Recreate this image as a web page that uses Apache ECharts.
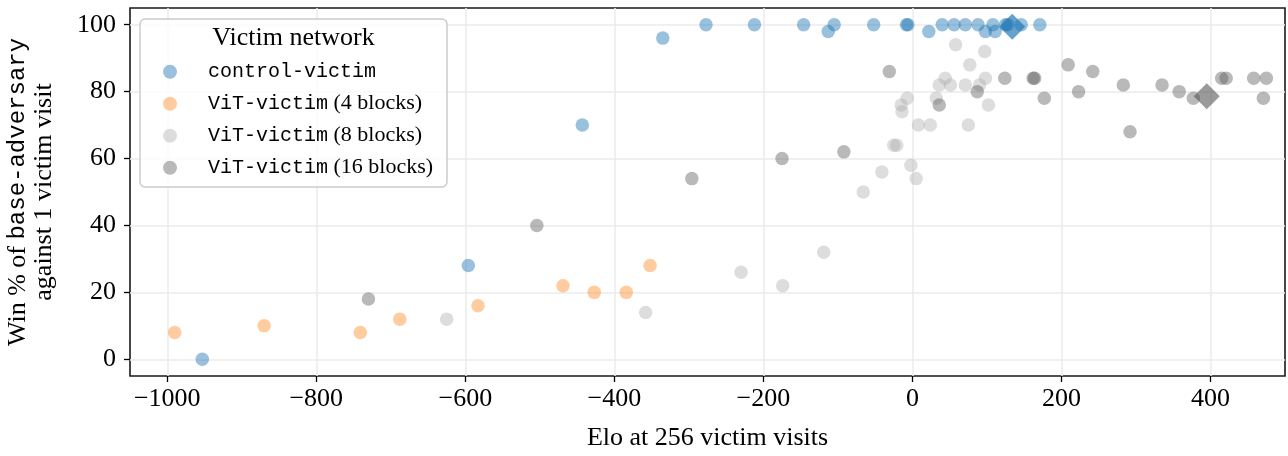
<!DOCTYPE html>
<html>
<head>
<meta charset="utf-8">
<script src="https://cdn.jsdelivr.net/npm/echarts@6/dist/echarts.min.js"></script>
<style>
  html, body { margin: 0; padding: 0; background: #fff; }
  #chart { width: 1288px; height: 456px; }
</style>
</head>
<body>
<div id="chart"></div>
<script>
// Victim network groups, in drawing order
const seriesNames = [
  'control-victim',
  'ViT-victim (4 blocks)',
  'ViT-victim (8 blocks)',
  'ViT-victim (16 blocks)'
];

// [Elo at 256 victim visits, win % against 1 victim visit]
const controlVictim = [
  [-953, 0], [-596, 28], [-443, 70], [-335, 96], [-277, 100], [-212, 100],
  [-146, 100], [-113, 98], [-105, 100], [-52, 100], [-8, 100], [-6, 100],
  [22, 98], [40, 100], [56, 100], [71, 100], [88, 100], [98, 98],
  [108, 100], [111, 98], [125, 100], [128, 100], [146, 100], [171, 100]
];
const vit4Blocks = [
  [-990, 8], [-870, 10], [-741, 8], [-688, 12], [-583, 16],
  [-469, 22], [-427, 20], [-384, 20], [-352, 28]
];
const vit8Blocks = [
  [-625, 12], [-358, 14], [-230, 26], [-174, 22], [-119, 32], [-66, 50],
  [-41, 56], [-2, 58], [5, 54], [-25, 64], [-21, 64], [-15, 76], [-14, 74],
  [-7, 78], [8, 70], [24, 70], [75, 70], [32, 78], [36, 82], [44, 84],
  [51, 82], [58, 94], [71, 82], [77, 88], [90, 82], [97, 92], [98, 84], [102, 76]
];
const vit16Blocks = [
  [-730, 18], [-504, 40], [-296, 54], [-175, 60], [-92, 62], [-31, 86],
  [36, 76], [87, 80], [124, 84], [162, 84], [164, 84], [177, 78], [209, 88],
  [223, 80], [242, 86], [283, 82], [292, 68], [335, 82], [358, 80], [377, 78],
  [415, 84], [421, 84], [458, 84], [475, 84], [471, 78]
];
// Highlighted (diamond) points
const controlHighlight = [[134, 99.4]];
const vit16Highlight = [[395, 78.6]];

// Axis ranges and tick values
const xRange = [-1050, 500];
const yRange = [-5, 105];
const xTicks = [-1000, -800, -600, -400, -200, 0, 200, 400];
const yTicks = [0, 20, 40, 60, 80, 100];

// Plot box in pixels
const box = { left: 130, top: 8, width: 1155, height: 368 };
const kx = box.width / (xRange[1] - xRange[0]);
const ky = box.height / (yRange[1] - yRange[0]);
const xStep = xTicks[1] - xTicks[0];
const yStep = yTicks[1] - yTicks[0];

const serif = 'Liberation Serif';
const mono = 'Liberation Mono';
const minus = v => String(v).replace('-', '\u2212');

const pointColors = [
  'rgba(31,119,180,0.57)',
  'rgba(255,127,14,0.5)',
  'rgba(169,169,169,0.5)',
  'rgba(80,80,80,0.5)'
];
const groups = [controlVictim, vit4Blocks, vit8Blocks, vit16Blocks];

const chart = echarts.init(document.getElementById('chart'), null, { renderer: 'canvas' });

const scatterSeries = groups.map((data, i) => ({
  name: seriesNames[i],
  type: 'scatter',
  xAxisIndex: 0,
  yAxisIndex: 0,
  data: data,
  symbol: 'circle',
  symbolSize: 13.5,
  itemStyle: { color: pointColors[i] },
  emphasis: { disabled: true },
  z: 2 + i * 0.01
}));

const highlightSeries = [
  { name: 'control-victim highlight', data: controlHighlight, color: 'rgba(31,119,180,0.85)' },
  { name: 'ViT-victim (16 blocks) highlight', data: vit16Highlight, color: 'rgba(80,80,80,0.72)' }
].map(h => ({
  name: h.name,
  type: 'scatter',
  xAxisIndex: 0,
  yAxisIndex: 0,
  data: h.data,
  symbol: 'diamond',
  symbolSize: 26,
  itemStyle: { color: h.color },
  emphasis: { disabled: true },
  z: 3
}));

const tickStyle = { show: true, inside: false, length: 6, lineStyle: { color: '#000', width: 1.3 } };
const gridLineStyle = { show: true, lineStyle: { color: '#ebebeb', width: 1.5 } };

const option = {
  animation: false,
  grid: [
    // data area with frame
    { left: box.left, top: box.top, width: box.width, height: box.height, outerBoundsMode: 'none',
      show: true, borderColor: '#1a1a1a', borderWidth: 1.6, backgroundColor: 'transparent' },
    // x ticks / gridlines
    { left: box.left + (xTicks[0] - xRange[0]) * kx, top: box.top, outerBoundsMode: 'none',
      width: (xTicks[xTicks.length - 1] - xTicks[0]) * kx, height: box.height },
    // y ticks / gridlines
    { left: box.left, top: box.top + (yRange[1] - yTicks[yTicks.length - 1]) * ky, outerBoundsMode: 'none',
      width: box.width, height: (yTicks[yTicks.length - 1] - yTicks[0]) * ky }
  ],
  xAxis: [
    { gridIndex: 0, type: 'value', min: xRange[0], max: xRange[1],
      axisLine: { show: false, onZero: false }, axisTick: { show: false }, axisLabel: { show: false },
      splitLine: { show: false },
      name: 'Elo at 256 victim visits', nameLocation: 'middle', nameGap: 49,
      nameTextStyle: { fontFamily: serif, fontSize: 26, color: '#000' } },
    { gridIndex: 1, type: 'value', min: xTicks[0], max: xTicks[xTicks.length - 1], interval: xStep,
      position: 'bottom',
      axisLine: { show: false, onZero: false },
      axisTick: tickStyle,
      axisLabel: { show: true, margin: 10, fontFamily: serif, fontSize: 26, color: '#000', formatter: minus },
      splitLine: gridLineStyle },
    { gridIndex: 2, type: 'value', min: xRange[0], max: xRange[1], show: false,
      axisLine: { onZero: false } }
  ],
  yAxis: [
    { gridIndex: 0, type: 'value', min: yRange[0], max: yRange[1],
      axisLine: { show: false, onZero: false }, axisTick: { show: false }, axisLabel: { show: false },
      splitLine: { show: false },
      name: 'Win % of {m|base-adversary}\nagainst 1 victim visit',
      nameLocation: 'middle', nameGap: 73,
      nameTextStyle: { fontFamily: serif, fontSize: 26, lineHeight: 26, color: '#000', align: 'center',
        rich: { m: { fontFamily: mono, fontSize: 24, lineHeight: 26, color: '#000' } } } },
    { gridIndex: 1, type: 'value', min: yRange[0], max: yRange[1], show: false,
      axisLine: { onZero: false } },
    { gridIndex: 2, type: 'value', min: yTicks[0], max: yTicks[yTicks.length - 1], interval: yStep,
      position: 'left',
      axisLine: { show: false, onZero: false },
      axisTick: tickStyle,
      axisLabel: { show: true, margin: 14, fontFamily: serif, fontSize: 26, color: '#000', formatter: minus },
      splitLine: gridLineStyle }
  ],
  legend: {
    data: seriesNames,
    orient: 'vertical',
    left: 163,
    top: 60.7,
    padding: 0,
    itemWidth: 14,
    itemHeight: 14,
    itemGap: 10,
    icon: 'circle',
    selectedMode: false,
    z: 20,
    textStyle: {
      fontFamily: serif, fontSize: 22, lineHeight: 22, color: '#000', padding: [0, 0, 0, 26],
      rich: { m: { fontFamily: mono, fontSize: 20, lineHeight: 22, color: '#000' } }
    },
    formatter: name => name.replace(/^(\S+)/, '{m|$1}')
  },
  graphic: [
    { type: 'rect', z: 10, silent: true,
      shape: { x: 140, y: 19, width: 307, height: 168, r: 5 },
      style: { fill: 'rgba(255,255,255,0.8)', stroke: '#cccccc', lineWidth: 1.5 } },
    { type: 'text', z: 20, silent: true,
      style: { text: 'Victim network', x: 293.5, y: 38.5, align: 'center', verticalAlign: 'middle',
        fontFamily: serif, fontSize: 26, fill: '#000' } }
  ],
  series: scatterSeries.concat(highlightSeries)
};

chart.setOption(option);
</script>
</body>
</html>
